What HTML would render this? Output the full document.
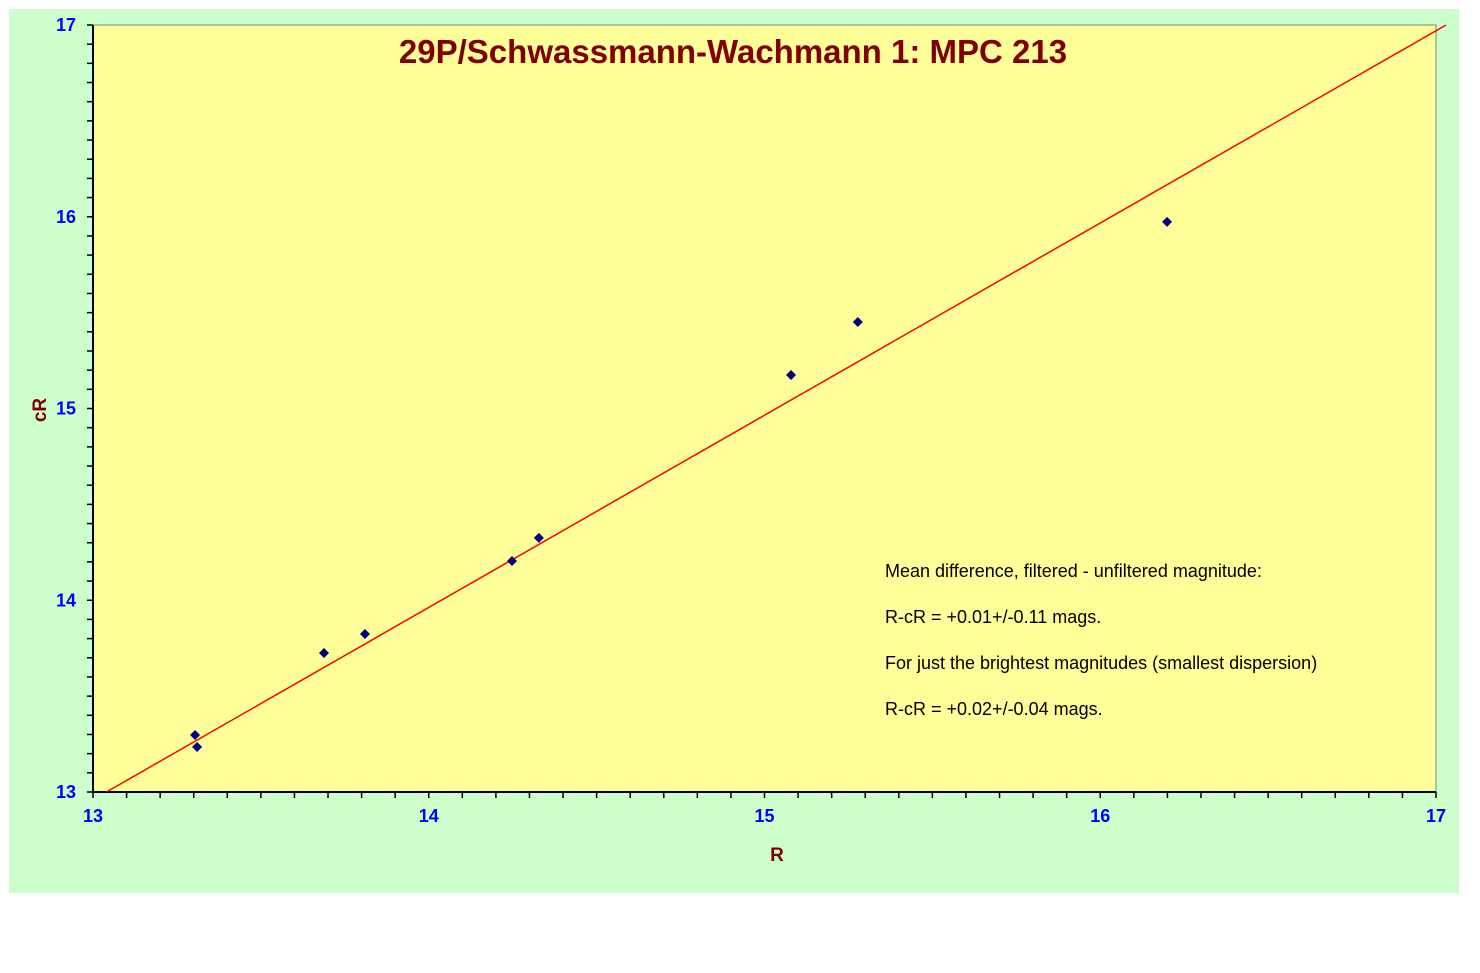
<!DOCTYPE html>
<html><head><meta charset="utf-8"><style>
body{margin:0;background:#fff;width:1480px;height:973px;overflow:hidden}
svg{display:block;font-family:"Liberation Sans",Arial,sans-serif}
</style></head><body>
<svg id="chart" width="1480" height="973">
<rect x="9" y="9" width="1450" height="884" fill="#ccffcc"/>
<rect x="93" y="25" width="1343" height="767" fill="#ffff99" stroke="#808080" stroke-width="1"/>
<g id="axes"></g>
<g id="marks"></g>
<text x="733" y="63" text-anchor="middle" font-size="33" font-weight="bold" fill="#800000">29P/Schwassmann-Wachmann 1: MPC 213</text>
<text x="777" y="861" text-anchor="middle" font-size="19" font-weight="bold" fill="#800000">R</text>
<text x="46" y="410" text-anchor="middle" font-size="19" font-weight="bold" fill="#800000" transform="rotate(-90 46 410)">cR</text>
<g font-size="18" fill="#000">
<text x="885" y="577">Mean difference, filtered - unfiltered magnitude:</text>
<text x="885" y="623">R-cR = +0.01+/-0.11 mags.</text>
<text x="885" y="669">For just the brightest magnitudes (smallest dispersion)</text>
<text x="885" y="715">R-cR = +0.02+/-0.04 mags.</text>
</g>
</svg>
<script>
const xTicks=[13,14,15,16,17];
const yTicks=[13,14,15,16,17];
const rVals=[13.304,13.31,13.688,13.81,14.248,14.328,15.079,15.278,16.199];
const crVals=[13.297,13.235,13.725,13.824,14.205,14.325,15.175,15.451,15.973];
const fitR=[13.04,17.03];
const fitCR=[13.0,17.0];
const NS="http://www.w3.org/2000/svg";
const X0=93,X1=1436,Y0=792,Y1=25;
const sx=v=>X0+(v-13)/4*(X1-X0);
const sy=v=>Y0-(v-13)/4*(Y0-Y1);
function mk(t,a,p){const e=document.createElementNS(NS,t);for(const k in a)e.setAttribute(k,a[k]);p.appendChild(e);return e;}
const ax=document.getElementById('axes'),mg=document.getElementById('marks');
const xl=mk('line',{x1:X0,y1:Y0,x2:X1,y2:Y0,stroke:'#000','stroke-width':2},ax);


const yl=mk('line',{x1:X0,y1:Y0,x2:X0,y2:Y1,stroke:'#000','stroke-width':2},ax);


for(let i=0;i<=40;i++){const v=13+i/10;
 mk('line',{x1:sx(v),y1:Y0,x2:sx(v),y2:Y0+6,stroke:'#000','stroke-width':1.5},ax);
 mk('line',{x1:X0-6,y1:sy(v),x2:X0,y2:sy(v),stroke:'#000','stroke-width':1.5},ax);}
xTicks.forEach(v=>{const t=mk('text',{x:sx(v),y:Y0+30,'text-anchor':'middle','font-size':18,'font-weight':'bold',fill:'#0000ff'},ax);t.textContent=v;
 
 });
yTicks.forEach(v=>{const t=mk('text',{x:X0-17,y:sy(v)+6,'text-anchor':'end','font-size':18,'font-weight':'bold',fill:'#0000ff'},ax);t.textContent=v;
 
 });
const fl=mk('line',{x1:sx(fitR[0]),y1:sy(fitCR[0]),x2:sx(fitR[1]),y2:sy(fitCR[1]),stroke:'#ff0000','stroke-width':1.5},mg);


rVals.forEach((r,i)=>{const x=sx(r),y=sy(crVals[i]);
 const p=mk('polygon',{points:`${x},${y-5} ${x+5},${y} ${x},${y+5} ${x-5},${y}`,fill:'#000080'},mg);
 
 });
</script>
</body></html>
